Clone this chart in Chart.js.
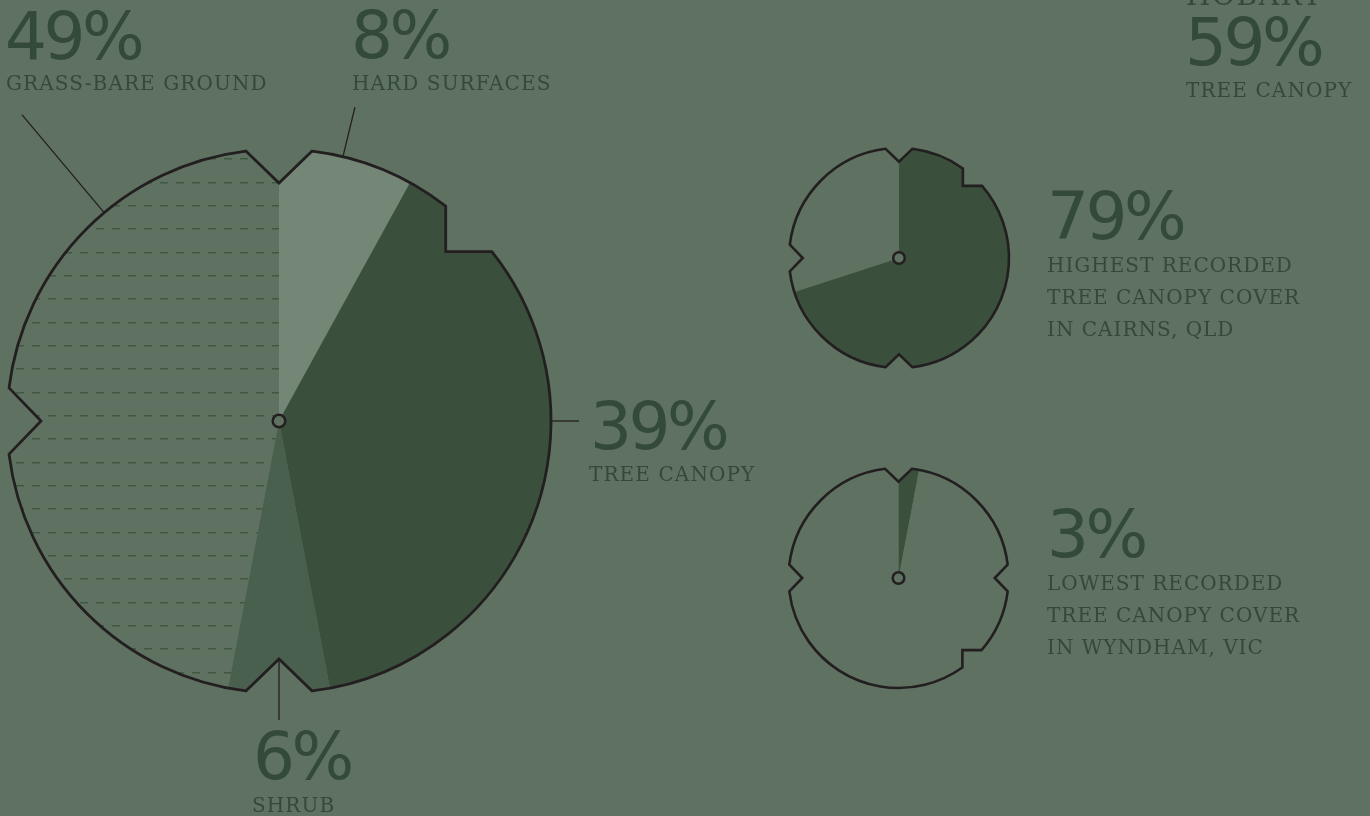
<!DOCTYPE html>
<html>
<head>
<meta charset="utf-8">
<script src="https://cdn.jsdelivr.net/npm/chart.js@4.4.0/dist/chart.umd.min.js"></script>
<style>
    html, body { margin: 0; padding: 0; }
    body {
        width: 1370px; height: 816px; overflow: hidden; position: relative;
        background: #5f7161; color: #34493a;
        font-family: "DejaVu Serif", serif;
    }
    canvas { position: absolute; left: 0; top: 0; }
    .num { position: absolute; font-family: "DejaVu Sans", sans-serif; font-size: 66px; line-height: 1; letter-spacing: -3.5px; white-space: nowrap; color: #33493a; }
    .lbl { position: absolute; font-size: 20px; line-height: 1; letter-spacing: 1.1px; white-space: nowrap; }
    .para { position: absolute; font-size: 20px; line-height: 32px; letter-spacing: 1px; white-space: nowrap; }
    .city { position: absolute; font-size: 28px; line-height: 1; letter-spacing: 1.6px; white-space: nowrap; }
</style>
</head>
<body>
<canvas id="big" width="1370" height="816"></canvas>
<canvas id="cairns" width="1370" height="816"></canvas>
<canvas id="wyndham" width="1370" height="816"></canvas>
<div id="texts"></div>
<script>
// national average land cover, clockwise from 12 o'clock
const coverTypes = ["HARD SURFACES", "TREE CANOPY", "SHRUB", "GRASS-BARE GROUND"];
const coverShares = [8, 39, 6, 47];           // slice sizes as drawn
const coverPrinted = ["8%", "39%", "6%", "49%"];

// highest / lowest recorded tree canopy
const cairnsShares = [70, 30];
const wyndhamShares = [3, 97];
const extremesPrinted = ["79%", "3%"];
const extremesText = [
    ["HIGHEST RECORDED", "TREE CANOPY COVER", "IN CAIRNS, QLD"],
    ["LOWEST RECORDED", "TREE CANOPY COVER", "IN WYNDHAM, VIC"]
];

// Hobart callout
const hobartCity = "HOBART";
const hobartPrinted = "59%";
const hobartType = "TREE CANOPY";

const BG = "#5f7161";
const INK = "#231f20";

// ---- text ----
const texts = document.getElementById("texts");
function addText(cls, str, left, top) {
    const d = document.createElement("div");
    d.className = cls;
    d.style.left = left + "px";
    d.style.top = top + "px";
    d.innerHTML = str;
    texts.appendChild(d);
}
addText("num", coverPrinted[3], 5, 4);
addText("lbl", coverTypes[3], 6, 73);
addText("num", coverPrinted[0], 351, 3);
addText("lbl", coverTypes[0], 352, 73);
addText("num", coverPrinted[1], 590, 394);
addText("lbl", coverTypes[1], 589, 464);
addText("num", coverPrinted[2], 253, 724);
addText("lbl", coverTypes[2], 252, 795);

addText("city", hobartCity, 1186, -18);
addText("num", hobartPrinted, 1185, 10);
addText("lbl", hobartType, 1186, 80);

addText("num", extremesPrinted[0], 1047, 184);
addText("para", extremesText[0].join("<br>"), 1047, 249);
addText("num", extremesPrinted[1], 1047, 502);
addText("para", extremesText[1].join("<br>"), 1047, 567);

// ---- dashed fill for grass ----
function dashPattern() {
    const tile = document.createElement("canvas");
    tile.width = 16; tile.height = 70;
    const t = tile.getContext("2d");
    t.fillStyle = BG;
    t.fillRect(0, 0, 16, 70);
    t.fillStyle = "#405842";
    [0, 23, 47].forEach(y => t.fillRect(0, y, 8, 1.5));
    const p = document.createElement("canvas").getContext("2d").createPattern(tile, "repeat");
    p.setTransform(new DOMMatrix().translate(0, 415));
    return p;
}

// ---- notched outline ----
const V_HALF = 7, V_DEPTH = 0.875;

function pt(cx, cy, r, a) {
    const t = a * Math.PI / 180;
    return [cx + r * Math.sin(t), cy - r * Math.cos(t)];
}
function rad(a) { return (a - 90) * Math.PI / 180; }

function outline(ctx, cx, cy, r, feats) {
    const spans = feats.map(f => f.type === "v" ? [f.at - V_HALF, f.at + V_HALF] : [f.from, f.to]);
    ctx.beginPath();
    const s0 = pt(cx, cy, r, spans[0][0]);
    ctx.moveTo(s0[0], s0[1]);
    feats.forEach((f, i) => {
        const [s, e] = spans[i];
        const P = pt(cx, cy, r, s), Q = pt(cx, cy, r, e);
        if (f.type === "v") {
            const T = pt(cx, cy, r * V_DEPTH, f.at);
            ctx.lineTo(T[0], T[1]);
        } else {
            const C = f.flip ? [Q[0], P[1]] : [P[0], Q[1]];
            ctx.lineTo(C[0], C[1]);
        }
        ctx.lineTo(Q[0], Q[1]);
        const next = i + 1 < feats.length ? spans[i + 1][0] : spans[0][0] + 360;
        ctx.arc(cx, cy, r, rad(e), rad(next));
    });
    ctx.closePath();
}

const notchPlugin = {
    id: "notched",
    beforeDatasetsDraw(chart, args, opts) {
        const arc = chart.getDatasetMeta(0).data[0];
        const ctx = chart.ctx;
        ctx.save();
        outline(ctx, arc.x, arc.y, arc.outerRadius, opts.features);
        ctx.clip();
    },
    afterDatasetsDraw(chart, args, opts) {
        const arc = chart.getDatasetMeta(0).data[0];
        const ctx = chart.ctx;
        const cx = arc.x, cy = arc.y, r = arc.outerRadius;
        ctx.restore();
        ctx.save();
        ctx.strokeStyle = INK;

        (opts.leaders || []).forEach(l => {
            const a = pt(cx, cy, r * l.from, l.angle);
            const b = pt(cx, cy, r + l.out, l.angle);
            ctx.beginPath();
            ctx.moveTo(a[0], a[1]);
            ctx.lineTo(b[0], b[1]);
            ctx.lineWidth = 1.3;
            ctx.stroke();
        });

        outline(ctx, cx, cy, r, opts.features);
        ctx.lineWidth = opts.line;
        ctx.lineJoin = "miter";
        ctx.stroke();

        ctx.beginPath();
        ctx.arc(cx, cy, opts.hub, 0, Math.PI * 2);
        ctx.fillStyle = BG;
        ctx.fill();
        ctx.lineWidth = 2.5;
        ctx.stroke();
        ctx.restore();
    }
};

function makePie(id, labels, values, colors, pad, notched) {
    return new Chart(document.getElementById(id), {
        type: "pie",
        data: {
            labels: labels,
            datasets: [{ data: values, backgroundColor: colors, borderWidth: 0 }]
        },
        options: {
            responsive: false,
            animation: false,
            layout: { padding: pad },
            plugins: {
                legend: { display: false },
                tooltip: { enabled: false },
                notched: notched
            }
        },
        plugins: [notchPlugin]
    });
}

makePie("big", coverTypes, coverShares,
    ["#748676", "#3a503c", "#4a604e", dashPattern()],
    { left: 7, top: 149, right: 819, bottom: 123 },
    {
        hub: 6.3,
        line: 2.8,
        features: [
            { type: "v", at: 0 },
            { type: "step", from: 37.8, to: 51.5 },
            { type: "v", at: 180 },
            { type: "v", at: 270 }
        ],
        leaders: [
            { angle: 320, from: 1, out: 128 },
            { angle: 13.6, from: 1, out: 51 },
            { angle: 90, from: 1, out: 28 },
            { angle: 180, from: V_DEPTH, out: 27 }
        ]
    });

makePie("cairns", ["Tree canopy", "Other"], cairnsShares,
    ["#3a503c", BG],
    { left: 789, top: 148, right: 361, bottom: 448 },
    {
        hub: 5.8,
        line: 2.6,
        features: [
            { type: "v", at: 0 },
            { type: "step", from: 35.5, to: 49 },
            { type: "v", at: 180 },
            { type: "v", at: 270 }
        ]
    });

makePie("wyndham", ["Tree canopy", "Other"], wyndhamShares,
    ["#3a503c", BG],
    { left: 788, top: 468, right: 361, bottom: 128 },
    {
        hub: 5.8,
        line: 2.6,
        features: [
            { type: "v", at: 0 },
            { type: "v", at: 90 },
            { type: "step", from: 131, to: 144.5, flip: true },
            { type: "v", at: 270 }
        ]
    });
</script>
</body>
</html>
